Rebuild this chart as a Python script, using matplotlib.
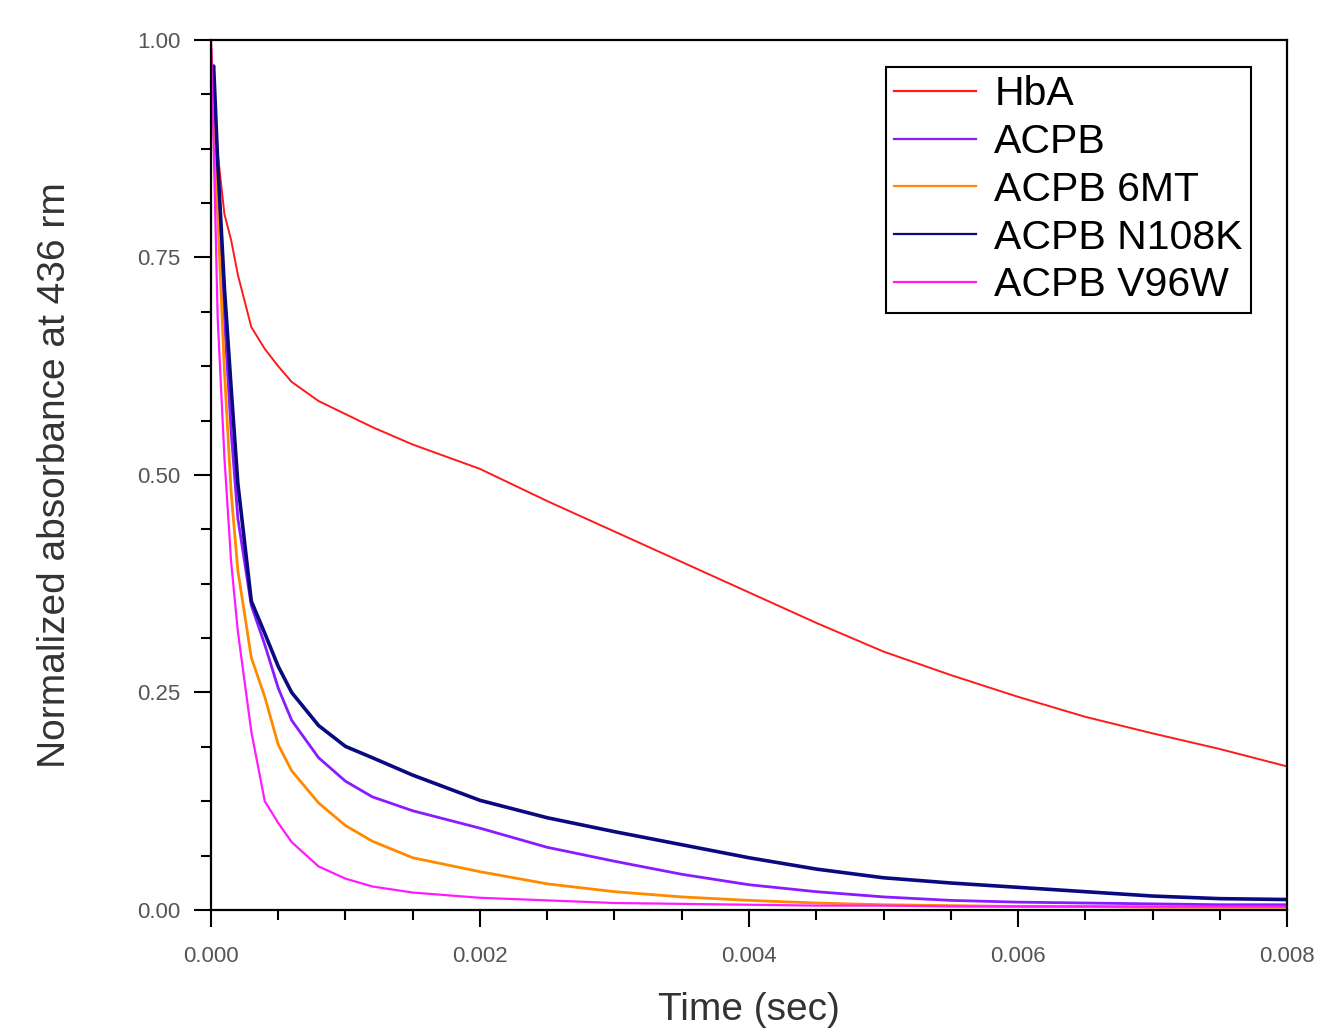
import matplotlib
matplotlib.use("Agg")
import matplotlib.pyplot as plt
from matplotlib.ticker import MultipleLocator, FormatStrFormatter

# Time axis (sec) and normalized absorbance traces
time_s = [0, 0.00002, 0.00005, 0.0001, 0.00015, 0.0002, 0.0003, 0.0004,
          0.0005, 0.0006, 0.0008, 0.001, 0.0012, 0.0015, 0.002, 0.0025,
          0.003, 0.0035, 0.004, 0.0045, 0.005, 0.0055, 0.006, 0.0065,
          0.007, 0.0075, 0.008]

hba = [1.0, 0.93, 0.87, 0.80, 0.77, 0.73, 0.67, 0.645, 0.625, 0.607,
       0.585, 0.57, 0.555, 0.535, 0.507, 0.47, 0.435, 0.40, 0.365, 0.33,
       0.297, 0.27, 0.245, 0.222, 0.203, 0.185, 0.165]
acpb = [0.95, 0.93, 0.85, 0.68, 0.55, 0.45, 0.35, 0.305, 0.255, 0.218,
        0.175, 0.148, 0.13, 0.114, 0.094, 0.072, 0.056, 0.041, 0.029,
        0.021, 0.015, 0.011, 0.009, 0.008, 0.007, 0.006, 0.006]
acpb_6mt = [0.95, 0.90, 0.80, 0.62, 0.48, 0.39, 0.29, 0.245, 0.19, 0.16,
            0.123, 0.097, 0.079, 0.06, 0.044, 0.030, 0.021, 0.015, 0.011,
            0.008, 0.006, 0.005, 0.004, 0.004, 0.003, 0.003, 0.003]
acpb_n108k = [0.96, 0.97, 0.86, 0.715, 0.60, 0.49, 0.355, 0.318, 0.28,
              0.25, 0.212, 0.188, 0.175, 0.155, 0.126, 0.106, 0.09, 0.075,
              0.06, 0.047, 0.037, 0.031, 0.026, 0.021, 0.016, 0.013, 0.012]
acpb_v96w = [1.0, 0.88, 0.68, 0.52, 0.40, 0.32, 0.205, 0.125, 0.10, 0.078,
             0.05, 0.036, 0.027, 0.02, 0.014, 0.011, 0.008, 0.007, 0.006,
             0.005, 0.005, 0.004, 0.004, 0.004, 0.004, 0.004, 0.004]

labels = ["HbA", "ACPB", "ACPB 6MT", "ACPB N108K", "ACPB V96W"]
colors = ["#ff1a1a", "#8a1aff", "#ff8a00", "#0a0a80", "#ff1aff"]
widths = [1.4, 2.0, 2.0, 2.6, 1.6]

plt.rcParams["font.family"] = ["Liberation Sans", "DejaVu Sans"]

fig = plt.figure(figsize=(13.21, 10.31), dpi=100)
ax = fig.add_axes([0.1597, 0.1174, 0.8146, 0.8438])

series = [hba, acpb, acpb_6mt, acpb_n108k, acpb_v96w]
for ys, lab, c, lw in zip(series, labels, colors, widths):
    ax.plot(time_s, ys, color=c, lw=lw, label=lab)

ax.set_xlim(0, 0.008)
ax.set_ylim(0, 1.0)
ax.xaxis.set_major_locator(MultipleLocator(0.002))
ax.xaxis.set_minor_locator(MultipleLocator(0.0005))
ax.yaxis.set_major_locator(MultipleLocator(0.25))
ax.yaxis.set_minor_locator(MultipleLocator(0.0625))
ax.xaxis.set_major_formatter(FormatStrFormatter("%.3f"))
ax.yaxis.set_major_formatter(FormatStrFormatter("%.2f"))

for s in ax.spines.values():
    s.set_linewidth(1.6)
ax.tick_params(which="major", direction="out", length=12, width=1.5,
               labelsize=16, labelcolor="#555555", pad=10)
ax.tick_params(axis="x", which="major", pad=14)
ax.tick_params(which="minor", direction="out", length=7, width=1.5)

ax.set_xlabel("Time (sec)", fontsize=28, color="#333333", labelpad=18)
ax.set_ylabel("Normalized absorbance at 436 rm", fontsize=28,
              color="#333333", labelpad=46)

leg = ax.legend(loc="upper left", bbox_to_anchor=(0.627, 0.969),
                fontsize=29.5, frameon=True, fancybox=False, framealpha=1,
                edgecolor="black", handlelength=2.0, handletextpad=0.45,
                labelspacing=0.24, borderpad=0.2, borderaxespad=0)
leg.get_frame().set_linewidth(1.5)
for h in leg.get_lines():
    h.set_linewidth(1.6)

fig.savefig("out.png", dpi=100)
